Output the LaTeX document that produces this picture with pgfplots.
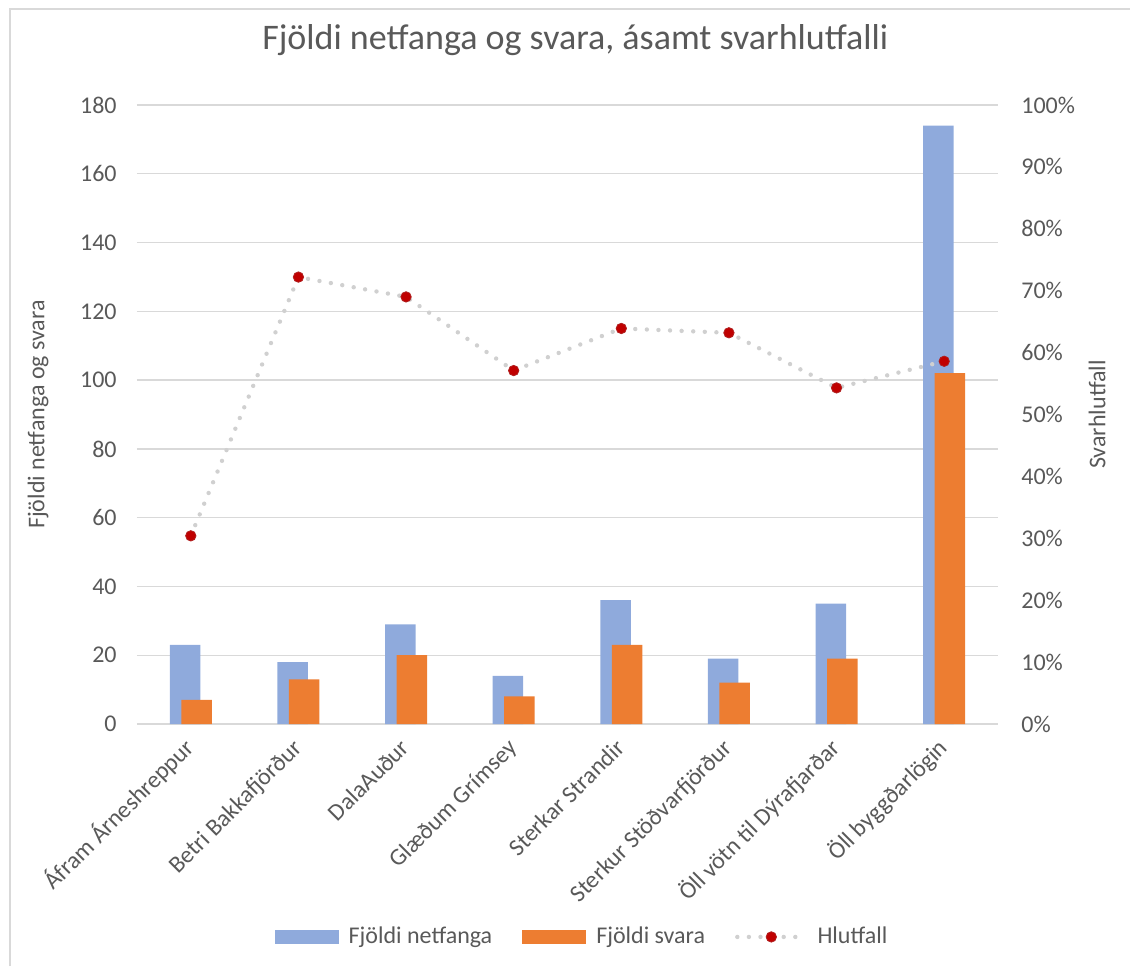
\documentclass[border=0pt]{standalone}
\usepackage{fontspec}
\setmainfont{Carlito}
\usepackage{pgfplots}
\pgfplotsset{compat=1.18}
\definecolor{barblue}{HTML}{8FAADC}
\definecolor{barorange}{HTML}{ED7D31}
\definecolor{dotred}{HTML}{C00000}
\definecolor{txt}{HTML}{595959}
\definecolor{gridc}{HTML}{D9D9D9}
\definecolor{linec}{HTML}{D0D0D0}
\pgfplotsset{dotlegend/.style={legend image code/.code={\draw[mark repeat=2, mark phase=2, ##1] plot coordinates {(0pt,0pt) (17pt,0pt) (34pt,0pt)};}}}
\begin{document}
\begin{tikzpicture}
\path[use as bounding box] (0,0) rectangle (565pt,483pt);
\draw[gridc, line width=1pt] (5pt,0pt) -- (5pt,478.5pt) -- (565pt,478.5pt);
\begin{axis}[
  at={(68.5pt,121pt)}, anchor=south west,
  scale only axis, width=430.5pt, height=309.5pt,
  xmin=-0.5, xmax=7.5, ymin=0, ymax=180,
  ytick={0,20,...,180},
  xtick={0,...,7},
  xticklabels={Áfram Árneshreppur, Betri Bakkafjörður, DalaAuður, Glæðum Grímsey, Sterkar Strandir, Sterkur Stöðvarfjörður, Öll vötn til Dýrafjarðar, Öll byggðarlögin},
  axis line style={draw=none}, tick style={draw=none}, major tick length=0pt,
  ymajorgrids, grid style={gridc, line width=0.7pt},
  /pgf/number format/assume math mode=true,
  tick label style={font=\fontsize{12}{14}\selectfont, text=txt},
  yticklabel style={anchor=east, inner sep=0pt, xshift=-10pt},
  xticklabel style={xshift=2.5pt, yshift=-12.5pt, rotate=45, anchor=base east, inner sep=0pt},
  ylabel={Fjöldi netfanga og svara},
  ylabel style={at={(axis description cs:-0.115,0.5)}, anchor=center, font=\fontsize{12}{14}\selectfont, text=txt},
  title={Fjöldi netfanga og svara, ásamt svarhlutfalli},
  title style={at={(axis description cs:0.509,1.0695)}, anchor=base, yshift=0pt, font=\fontsize{18}{21}\selectfont, text=txt},
]
\addplot[ybar, bar width=15.25pt, bar shift=-2.85pt, fill=barblue, draw=none] coordinates {
(0,23) (1,18) (2,29) (3,14) (4,36) (5,19) (6,35) (7,174)};
\addplot[ybar, bar width=15.25pt, bar shift=2.85pt, fill=barorange, draw=none] coordinates {
(0,7) (1,13) (2,20) (3,8) (4,23) (5,12) (6,19) (7,102)};
\end{axis}
\begin{axis}[
  at={(68.5pt,121pt)}, anchor=south west,
  scale only axis, width=430.5pt, height=309.5pt,
  xmin=-0.5, xmax=7.5, ymin=0, ymax=100,
  axis x line=none, axis y line*=right,
  ytick={0,10,...,100},
  yticklabel={\pgfmathprintnumber{\tick}\%},
  axis line style={draw=none}, tick style={draw=none}, major tick length=0pt,
  /pgf/number format/assume math mode=true,
  tick label style={font=\fontsize{12}{14}\selectfont, text=txt},
  yticklabel style={anchor=west, inner sep=0pt, xshift=11.5pt},
  ylabel={Svarhlutfall},
  ylabel style={at={(axis description cs:1.115,0.5)}, anchor=center, font=\fontsize{12}{14}\selectfont, text=txt},
  legend columns=3,
  legend style={at={(0.518,-0.344)}, anchor=center, draw=none, fill=none,
    font=\fontsize{12}{14}\selectfont, text=txt,
    /tikz/every odd column/.append style={column sep=3pt},
    /tikz/every even column/.append style={column sep=13pt}},
]
\addlegendimage{area legend, fill=barblue, draw=none, legend image code/.code={\fill[barblue] (0pt,-3.7pt) rectangle (32pt,3.7pt);}}
\addlegendentry{Fjöldi netfanga}
\addlegendimage{area legend, fill=barorange, draw=none, legend image code/.code={\fill[barorange] (0pt,-3.7pt) rectangle (32pt,3.7pt);}}
\addlegendentry{Fjöldi svara}
\addplot[linec, line width=2.2pt, line cap=round, dash pattern=on 0pt off 5.8pt,
  mark=*, mark size=2.6pt, mark options={solid, fill=dotred, draw=dotred!75!gray, line width=0.4pt},
  dotlegend]
coordinates {(0,30.4) (1,72.2) (2,69.0) (3,57.1) (4,63.9) (5,63.2) (6,54.3) (7,58.6)};
\addlegendentry{Hlutfall}
\end{axis}
\end{tikzpicture}
\end{document}
